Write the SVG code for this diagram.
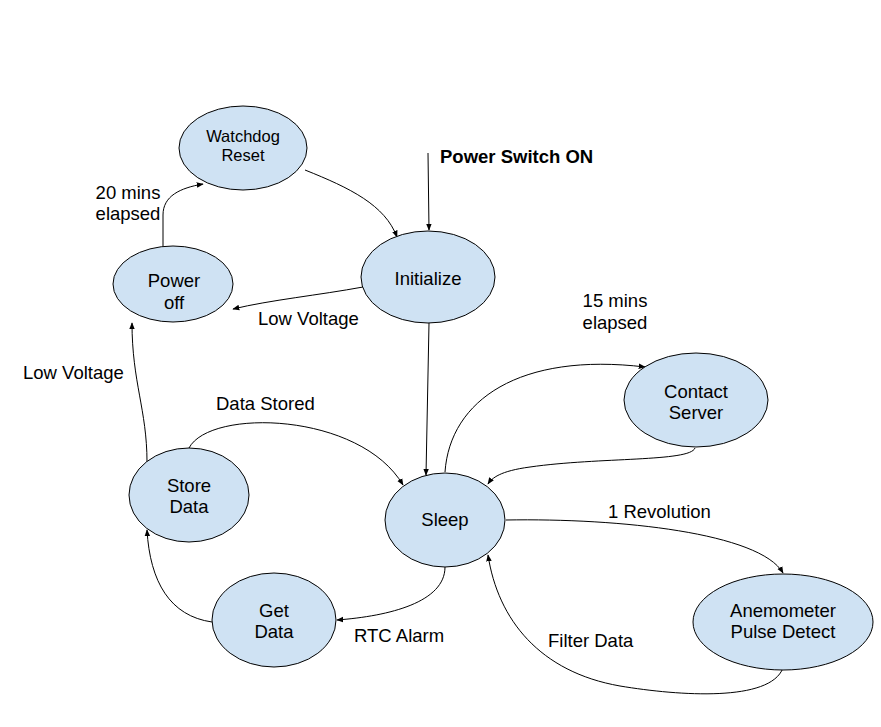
<svg xmlns="http://www.w3.org/2000/svg" width="881" height="727" viewBox="0 0 881 727">
<style>
.n ellipse{fill:#cfe2f3;stroke:#000;stroke-width:1}
text{font-family:"Liberation Sans",Arial,sans-serif;font-size:18.5px;fill:#000}
.n text{text-anchor:middle}
.c path{fill:none;stroke:#000;stroke-width:1}
</style>
<defs>
<marker id="a" viewBox="0 0 10 10" refX="9" refY="5" markerWidth="7" markerHeight="7" orient="auto" markerUnits="userSpaceOnUse">
<path d="M0,1 L10,5 L0,9 z" fill="#000"/>
</marker>
</defs>
<rect width="881" height="727" fill="#fff"/>
<g class="c">
<path d="M428,153 L429,230" marker-end="url(#a)"/>
<path d="M305,170 C350,188 385,205 397,237" marker-end="url(#a)"/>
<path d="M163,246 L163,215 C163,196 180,188 203,184" marker-end="url(#a)"/>
<path d="M363,287 C320,295 270,300 233,309" marker-end="url(#a)"/>
<path d="M429,323 L426,475" marker-end="url(#a)"/>
<path d="M445,472 C450,400 520,352 645,367" marker-end="url(#a)"/>
<path d="M695,448 C690,462 600,457 530,467 C500,471 492,478 488,484" marker-end="url(#a)"/>
<path d="M506,520 C620,518 760,533 783,573" marker-end="url(#a)"/>
<path d="M783,668 C770,702 680,696 620,686 C540,672 498,620 488,555" marker-end="url(#a)"/>
<path d="M445,567 C445,602 390,616 337,620" marker-end="url(#a)"/>
<path d="M212,622 C170,616 150,582 147,530" marker-end="url(#a)"/>
<path d="M147,462 C147,410 132,382 132,323" marker-end="url(#a)"/>
<path d="M189,448 C210,408 360,412 403,485" marker-end="url(#a)"/>
</g>
<g id="watchdog" class="n"><ellipse cx="243" cy="148" rx="64" ry="42"/><text x="243" y="142" style="font-size:16.5px">Watchdog</text><text x="243" y="161" style="font-size:16.5px">Reset</text></g>
<g id="poweroff" class="n"><ellipse cx="173" cy="284" rx="60" ry="38"/><text x="174" y="287">Power</text><text x="174" y="309">off</text></g>
<g id="initialize" class="n"><ellipse cx="428" cy="277" rx="67" ry="46"/><text x="428" y="285">Initialize</text></g>
<g id="contact" class="n"><ellipse cx="696" cy="400" rx="72" ry="47"/><text x="696" y="398">Contact</text><text x="696" y="419">Server</text></g>
<g id="sleep" class="n"><ellipse cx="445" cy="520" rx="60" ry="47"/><text x="445" y="526">Sleep</text></g>
<g id="anemometer" class="n"><ellipse cx="783" cy="622" rx="90" ry="48"/><text x="783" y="617">Anemometer</text><text x="783" y="638">Pulse Detect</text></g>
<g id="store" class="n"><ellipse cx="189" cy="495" rx="60" ry="47"/><text x="189" y="492">Store</text><text x="189" y="513">Data</text></g>
<g id="get" class="n"><ellipse cx="274" cy="620" rx="62" ry="47"/><text x="274" y="617">Get</text><text x="274" y="638">Data</text></g>
<g id="labels">
<text x="440" y="163" style="font-weight:bold">Power Switch ON</text>
<text x="128" y="199" text-anchor="middle">20 mins</text>
<text x="128" y="220" text-anchor="middle">elapsed</text>
<text x="258" y="325">Low Voltage</text>
<text x="615" y="307" text-anchor="middle">15 mins</text>
<text x="615" y="329" text-anchor="middle">elapsed</text>
<text x="23" y="379">Low Voltage</text>
<text x="216" y="410">Data Stored</text>
<text x="608" y="518">1 Revolution</text>
<text x="548" y="647">Filter Data</text>
<text x="354" y="642">RTC Alarm</text>
</g>
</svg>
